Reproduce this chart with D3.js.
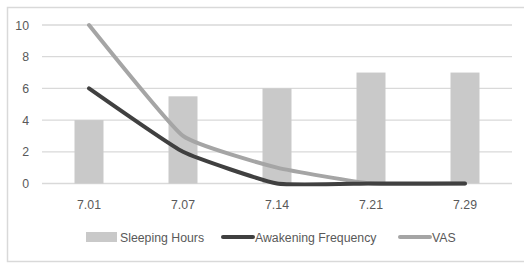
<!DOCTYPE html>
<html lang="en">
	<head>
		<meta charset="utf-8">
		<title>sleep chart</title>
		<script src="https://d3js.org/d3.v7.min.js"></script>
		<style type="text/css">
		body { margin: 0; background: #fff; }
		text {
				font-family: "Liberation Sans", sans-serif;
				font-size: 12.3px;
				fill: #595959;
		}
		</style>
	</head>
	<body>
		<script type="text/javascript">

					var dates = ["7.01", "7.07", "7.14", "7.21", "7.29"];
					var sleepingHours = [4, 5.5, 6, 7, 7];
					var awakening = [6, 2, 0, 0, 0];
					var vas = [10, 3, 1, 0, 0];
					var yTicks = [0, 2, 4, 6, 8, 10];

					var w = 524;
					var h = 263;

					var svg = d3.select("body")
					.append("svg")
					.attr("width", w)
					.attr("height", h);

					// chart border (cut off at right/bottom like the picture)
					svg.append("rect")
					.attr("x", 7.5).attr("y", 7.5)
					.attr("width", 530).attr("height", 254)
					.attr("fill", "none")
					.attr("stroke", "#d9d9d9")
					.attr("stroke-width", 1.5);

					var x = d3.scaleBand()
					.domain(dates)
					.range([42, 512]);

					var y = d3.scaleLinear()
					.domain([0, 10])
					.range([183.5, 25]);

					// gridlines
					svg.append("g")
					.selectAll("line")
					.data(yTicks)
					.enter()
					.append("line")
					.attr("x1", 42).attr("x2", 512)
					.attr("y1", function(d) { return y(d); })
					.attr("y2", function(d) { return y(d); })
					.attr("stroke", "#d9d9d9")
					.attr("stroke-width", 1.3);

					// y labels
					svg.append("g")
					.selectAll("text")
					.data(yTicks)
					.enter()
					.append("text")
					.attr("x", 29)
					.attr("y", function(d) { return y(d) + 4.5; })
					.attr("text-anchor", "end")
					.text(function(d) { return d; });

					// x labels
					svg.append("g")
					.selectAll("text")
					.data(dates)
					.enter()
					.append("text")
					.attr("x", function(d) { return x(d) + x.bandwidth() / 2; })
					.attr("y", 209)
					.attr("text-anchor", "middle")
					.text(function(d) { return d; });

					// bars
					var bw = 29;
					svg.append("g")
					.selectAll("rect")
					.data(sleepingHours)
					.enter()
					.append("rect")
					.attr("x", function(d, i) { return x(dates[i]) + x.bandwidth() / 2 - bw / 2; })
					.attr("y", function(d) { return y(d); })
					.attr("width", bw)
					.attr("height", function(d) { return y(0) - y(d); })
					.attr("fill", "#c9c9c9");

					var line = d3.line()
					.x(function(d, i) { return x(dates[i]) + x.bandwidth() / 2; })
					.y(function(d) { return Math.min(y(0), y(d)); })
					.curve(d3.curveCardinal.tension(0.6));

					svg.append("path")
					.attr("d", line(vas))
					.attr("fill", "none")
					.attr("stroke", "#a5a5a5")
					.attr("stroke-width", 4)
					.attr("stroke-linecap", "round");

					svg.append("path")
					.attr("d", line(awakening))
					.attr("fill", "none")
					.attr("stroke", "#404040")
					.attr("stroke-width", 4)
					.attr("stroke-linecap", "round");

					// legend
					var lg = svg.append("g");
					lg.append("rect")
					.attr("x", 86).attr("y", 232)
					.attr("width", 31).attr("height", 10)
					.attr("fill", "#c9c9c9");
					lg.append("text")
					.attr("x", 120).attr("y", 241.5)
					.text("Sleeping Hours");

					lg.append("line")
					.attr("x1", 223).attr("x2", 253)
					.attr("y1", 237).attr("y2", 237)
					.attr("stroke", "#404040")
					.attr("stroke-width", 4)
					.attr("stroke-linecap", "round");
					lg.append("text")
					.attr("x", 255).attr("y", 241.5)
					.text("Awakening Frequency");

					lg.append("line")
					.attr("x1", 400).attr("x2", 430)
					.attr("y1", 237).attr("y2", 237)
					.attr("stroke", "#a5a5a5")
					.attr("stroke-width", 4)
					.attr("stroke-linecap", "round");
					lg.append("text")
					.attr("x", 432).attr("y", 241.5)
					.text("VAS");

		</script>
	</body>
</html>
